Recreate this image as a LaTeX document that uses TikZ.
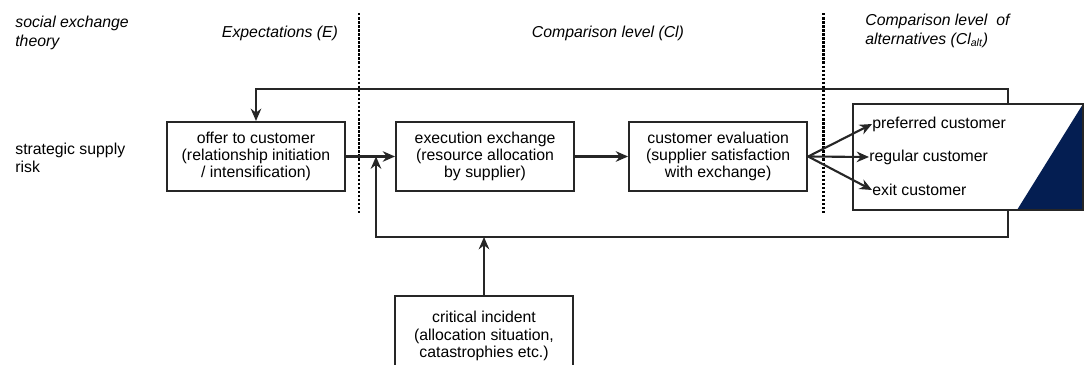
\documentclass[tikz,border=0pt]{standalone}
\usepackage{fontspec}
\setmainfont{Liberation Sans}
\usetikzlibrary{arrows.meta, positioning}
\definecolor{altnavy}{RGB}{4,30,82}

\begin{document}
\begin{tikzpicture}[
        x=0.02cm, y=-0.02cm,
        node distance=1cm,
        box/.style={rectangle, draw=black!85, line width=1.2pt, minimum width=3.56cm, minimum height=1.38cm, align=center, font=\fontsize{9}{9.9}\selectfont, inner sep=2pt},
        rowlabel/.style={align=left, anchor=west, inner sep=0pt, font=\fontsize{9}{10.5}\selectfont},
        phase/.style={align=left, inner sep=0pt, font=\fontsize{9}{10.5}\selectfont\itshape},
        outcome/.style={anchor=west, inner sep=0pt, font=\fontsize{9}{10}\selectfont},
        arrow/.style={-{Stealth[length=7pt, width=6pt]}, line width=1.2pt, color=black!85},
        divider/.style={line width=1.7pt, dash pattern=on 1.4pt off 0.9pt}
    ]
        \useasboundingbox (0,0) rectangle (1089,365);
        \clip (0,0) rectangle (1089,365);

        % header and row labels
        \node[rowlabel, font=\fontsize{9}{10.5}\selectfont\itshape] (theory) at (15,33) {social exchange\\theory};
        \node[rowlabel] (risk) at (15,158) {strategic supply\\risk};
        \node[phase] (expect) at (280,33) {Expectations (E)};
        \node[phase] (complevel) at (608,33) {Comparison level (Cl)};
        \node[phase, anchor=west] (altlevel) at (865,31) {Comparison level \ of\\alternatives (Cl\textsubscript{alt})};

        \draw[divider] (359,13) -- (359,213);
        \draw[divider] (823,13) -- (823,213);

        % process boxes
        \node[box] (offer) at (256,156.5) {offer to customer\\(relationship initiation\\/ intensification)};
        \node[box, right=0.98cm of offer] (exec) {execution exchange\\(resource allocation\\by supplier)};
        \node[box, right=1.06cm of exec] (eval) {customer evaluation\\(supplier satisfaction\\with exchange)};
        \node[box, anchor=north, minimum height=1.6cm] (crit) at (484,295) {critical incident\\(allocation situation,\\catastrophies etc.)};

        \fill[altnavy] (1083,104) -- (1083,210) -- (1017,210) -- cycle;
        \node[box, minimum width=4.6cm, minimum height=2.12cm] (alt) at (968,157) {};
        \node[outcome] (pref) at (872,124) {preferred customer};
        \node[outcome] (reg) at (869,157) {regular customer};
        \node[outcome] (exitc) at (872,190) {exit customer};

        \coordinate (loopx) at (1008,0);
        \coordinate (toprun) at (0,89);
        \coordinate (lowrun) at (0,237);
        \coordinate (joint) at (376,156.5);

        \draw[arrow] (offer) -- (exec);
        \draw[arrow] (exec) -- (eval);
        \draw[arrow] (eval.east) -- (pref.west);
        \draw[arrow] (eval.east) -- (reg.west);
        \draw[arrow] (eval.east) -- (exitc.west);
        \draw[arrow] (alt.north -| loopx) |- (offer.north |- toprun) -- (offer.north);
        \draw[arrow] (alt.south -| loopx) |- (joint |- lowrun) -- (joint);
        \draw[arrow] (crit.north) -- (crit.north |- lowrun);
    \end{tikzpicture}
\end{document}
